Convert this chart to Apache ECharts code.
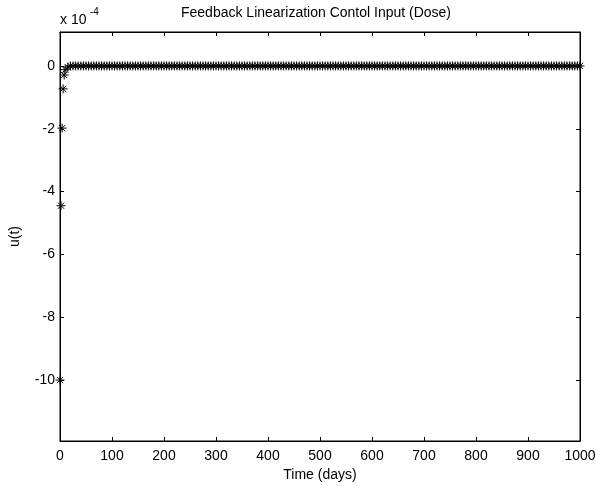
<!DOCTYPE html>
<html>
<head>
<meta charset="utf-8">
<script src="https://cdn.jsdelivr.net/npm/echarts@6/dist/echarts.min.js"></script>
<style>html,body{margin:0;padding:0;background:#fff}#c{width:596px;height:486px}</style>
</head>
<body>
<div id="c"></div>
<script>
// Time (days) of each control sample
const times = [
  0,2,4,6,8,
  10,15,20,25,30,35,40,45,50,55,60,65,70,75,80,85,90,95,
  100,105,110,115,120,125,130,135,140,145,150,155,160,165,170,175,180,185,190,195,
  200,205,210,215,220,225,230,235,240,245,250,255,260,265,270,275,280,285,290,295,
  300,305,310,315,320,325,330,335,340,345,350,355,360,365,370,375,380,385,390,395,
  400,405,410,415,420,425,430,435,440,445,450,455,460,465,470,475,480,485,490,495,
  500,505,510,515,520,525,530,535,540,545,550,555,560,565,570,575,580,585,590,595,
  600,605,610,615,620,625,630,635,640,645,650,655,660,665,670,675,680,685,690,695,
  700,705,710,715,720,725,730,735,740,745,750,755,760,765,770,775,780,785,790,795,
  800,805,810,815,820,825,830,835,840,845,850,855,860,865,870,875,880,885,890,895,
  900,905,910,915,920,925,930,935,940,945,950,955,960,965,970,975,980,985,990,995,
  1000
];
// u(t) in units of 1e-4
const uValues = [
  -10,-4.45,-1.98,-0.73,-0.29,
  -0.12,-0.04,0,0,0,0,0,0,0,0,0,0,0,0,0,0,0,0,
  0,0,0,0,0,0,0,0,0,0,0,0,0,0,0,0,0,0,0,0,
  0,0,0,0,0,0,0,0,0,0,0,0,0,0,0,0,0,0,0,0,
  0,0,0,0,0,0,0,0,0,0,0,0,0,0,0,0,0,0,0,0,
  0,0,0,0,0,0,0,0,0,0,0,0,0,0,0,0,0,0,0,0,
  0,0,0,0,0,0,0,0,0,0,0,0,0,0,0,0,0,0,0,0,
  0,0,0,0,0,0,0,0,0,0,0,0,0,0,0,0,0,0,0,0,
  0,0,0,0,0,0,0,0,0,0,0,0,0,0,0,0,0,0,0,0,
  0,0,0,0,0,0,0,0,0,0,0,0,0,0,0,0,0,0,0,0,
  0,0,0,0,0,0,0,0,0,0,0,0,0,0,0,0,0,0,0,0,
  0
];
const xTicks = [0,100,200,300,400,500,600,700,800,900,1000];
const yTicks = [0,-2,-4,-6,-8,-10];
const titleText = 'Feedback Linearization Contol Input (Dose)';
const xName = 'Time (days)';
const yName = 'u(t)';

const FONT = '"Liberation Sans", Arial, sans-serif';
const data = times.map((t, i) => [t, uValues[i]]);
const asterisk = 'path://M5 0L5 10M0 5L10 5M1.6 1.6L8.4 8.4M8.4 1.6L1.6 8.4';

const chart = echarts.init(document.getElementById('c'));
const lineCommon = { show: true, onZero: false, lineStyle: { color: '#000', width: 1 } };
const tickCommon = (vals) => ({ show: true, inside: true, length: 4, lineStyle: { color: '#000', width: 1 }, customValues: vals });
chart.setOption({
  animation: false,
  backgroundColor: '#fff',
  grid: { left: 60, right: 16, top: 32, bottom: 45, outerBoundsMode: 'none', containLabel: false,
          show: true, borderColor: '#000', borderWidth: 1, backgroundColor: 'transparent' },
  graphic: [
    { type: 'text', x: 316, y: 13, style: { text: titleText, font: '14px ' + FONT, fill: '#000', align: 'center', verticalAlign: 'middle' } },
    { type: 'text', x: 60, y: 20.5, style: { text: 'x 10', font: '14px ' + FONT, fill: '#000', align: 'left', verticalAlign: 'middle' } },
    { type: 'text', x: 90, y: 12.5, style: { text: '-4', font: '10px ' + FONT, fill: '#000', align: 'left', verticalAlign: 'middle' } }
  ],
  xAxis: [
    {
      type: 'value', min: 0, max: 1000, interval: 100, position: 'bottom',
      name: xName, nameLocation: 'middle', nameGap: 26,
      nameTextStyle: { color: '#000', fontSize: 14, fontFamily: FONT },
      axisLine: lineCommon, splitLine: { show: false },
      axisLabel: { color: '#000', fontSize: 14, fontFamily: FONT, margin: 8, customValues: xTicks, formatter: v => String(v) },
      axisTick: tickCommon(xTicks)
    },
    {
      type: 'value', min: 0, max: 1000, interval: 100, position: 'top',
      axisLine: lineCommon, splitLine: { show: false },
      axisLabel: { show: false },
      axisTick: tickCommon(xTicks)
    }
  ],
  yAxis: [
    {
      type: 'value', min: -11.94, max: 1.08, position: 'left',
      name: yName, nameLocation: 'middle', nameGap: 38, nameRotate: 90,
      nameTextStyle: { color: '#000', fontSize: 14, fontFamily: FONT },
      axisLine: lineCommon, splitLine: { show: false },
      axisLabel: { color: '#000', fontSize: 14, fontFamily: FONT, margin: 5, customValues: yTicks, formatter: v => String(v) },
      axisTick: tickCommon(yTicks)
    },
    {
      type: 'value', min: -11.94, max: 1.08, position: 'right',
      axisLine: lineCommon, splitLine: { show: false },
      axisLabel: { show: false },
      axisTick: tickCommon(yTicks)
    }
  ],
  series: [{
    type: 'scatter',
    xAxisIndex: 0, yAxisIndex: 0,
    data: data,
    symbol: asterisk,
    symbolSize: 9,
    clip: false,
    itemStyle: { color: 'rgba(0,0,0,0)', borderColor: '#000', borderWidth: 1, opacity: 1 },
    emphasis: { disabled: true }
  }]
});
</script>
</body>
</html>
